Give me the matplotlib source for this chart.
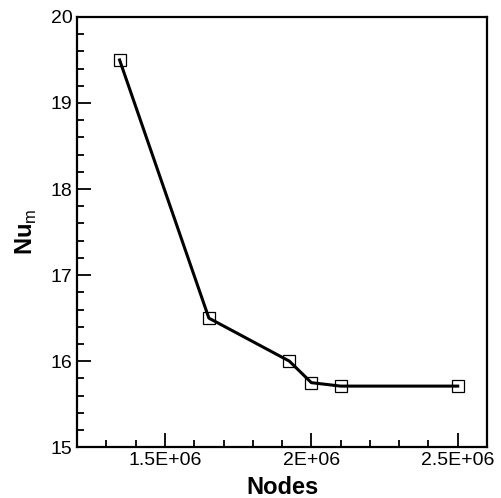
import matplotlib.pyplot as plt
from matplotlib.ticker import MultipleLocator

plt.rcParams['font.family'] = ['Liberation Sans', 'DejaVu Sans']
plt.rcParams['mathtext.fontset'] = 'custom'
plt.rcParams['mathtext.rm'] = 'Liberation Sans'
plt.rcParams['mathtext.bf'] = 'Liberation Sans:bold'

# mesh study data
nodes = [1.345e6, 1.65e6, 1.925e6, 2.0e6, 2.1e6, 2.5e6]
nu_m = [19.5, 16.5, 16.0, 15.75, 15.71, 15.71]

x_ticks = [1.5e6, 2.0e6, 2.5e6]
x_tick_labels = ['1.5E+06', '2E+06', '2.5E+06']


fig = plt.figure(figsize=(5.01, 4.98), dpi=100)
ax = fig.add_axes([0.154, 0.102, 0.818, 0.864])

ax.plot(nodes, nu_m, color='black', linewidth=2.2, marker='s', markersize=8,
        markerfacecolor='none', markeredgecolor='black', markeredgewidth=0.9)

ax.set_xlim(1.2e6, 2.6e6)
ax.set_ylim(15, 20)
ax.set_xticks(x_ticks)
ax.set_xticklabels(x_tick_labels)
ax.xaxis.set_minor_locator(MultipleLocator(1e5))
ax.yaxis.set_major_locator(MultipleLocator(1))
ax.yaxis.set_minor_locator(MultipleLocator(0.2))

ax.tick_params(which='both', direction='in', top=False, right=False, width=1.3, labelsize=14)
ax.tick_params(which='major', length=10)
ax.tick_params(which='minor', length=5)
for s in ax.spines.values():
    s.set_linewidth(1.6)

ax.set_xlabel('Nodes', fontsize=17, fontweight='bold', labelpad=5)
ax.set_ylabel(r'$\mathbf{Nu}_\mathrm{m}$', fontsize=17, labelpad=8)

fig.savefig('out.png', dpi=100)
